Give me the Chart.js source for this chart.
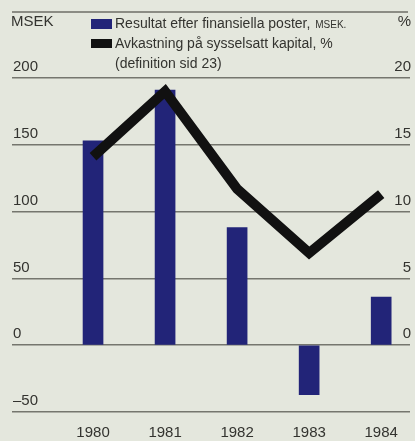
<!DOCTYPE html>
<html>
<head>
<meta charset="utf-8">
<script src="https://cdn.jsdelivr.net/npm/chart.js@4"></script>
<style>
html,body{margin:0;padding:0;background:#e4e7dd;}
#wrap{width:415px;height:441px;position:relative;}
</style>
</head>
<body>
<div id="wrap"><canvas id="c" width="415" height="441"></canvas></div>
<script>
const years = [1980, 1981, 1982, 1983, 1984];
const yearLabels = ['1980', '1981', '1982', '1983', '1984'];
const resultMSEK = [153, 191, 88, -37, 36];
const returnPct = [14.1, 19.0, 11.7, 6.9, 11.3];
const leftTicks = [-50, 0, 50, 100, 150, 200];
const rightTicks = [0, 5, 10, 15, 20];
const seriesLabels = ['Resultat efter finansiella poster, ', 'Avkastning på sysselsatt kapital, %'];
const leftUnit = 'MSEK';
const rightUnit = '%';
const noteText = '(definition sid 23)';

const FONT = '"Liberation Sans", Arial, sans-serif';
const TEXT = '#33332f';
const BLUE = '#222478';

const decor = {
  id: 'decor',
  beforeDraw(chart) {
    const ctx = chart.ctx;
    ctx.save();
    ctx.fillStyle = '#e4e7dd';
    ctx.fillRect(0, 0, chart.width, chart.height);
    ctx.strokeStyle = '#6e6e66';
    ctx.lineWidth = 1.5;
    ctx.beginPath();
    ctx.moveTo(12, 12); ctx.lineTo(408, 12);
    ctx.stroke();
    ctx.restore();
  },
  afterDraw(chart) {
    const ctx = chart.ctx;
    ctx.save();
    ctx.fillStyle = TEXT;
    ctx.textBaseline = 'middle';
    ctx.font = '15px ' + FONT;
    ctx.textAlign = 'left';
    ctx.fillText(leftUnit, 11, 22);
    ctx.textAlign = 'right';
    ctx.fillText(rightUnit, 411, 22);
    // legend
    const ds = chart.data.datasets;
    ctx.textAlign = 'left';
    ctx.fillStyle = ds[0].backgroundColor;
    ctx.fillRect(91, 19, 21, 10);
    ctx.fillStyle = TEXT;
    ctx.font = '14px ' + FONT;
    ctx.fillText(seriesLabels[0], 115, 24);
    const w = ctx.measureText(seriesLabels[0]).width;
    ctx.font = '10px ' + FONT;
    ctx.fillText('MSEK.', 115 + w + 1, 25);
    ctx.fillStyle = ds[1].borderColor;
    ctx.fillRect(91, 39, 21, 9);
    ctx.fillStyle = TEXT;
    ctx.font = '14px ' + FONT;
    ctx.fillText(seriesLabels[1], 115, 44);
    ctx.fillText(noteText, 115, 64);
    ctx.restore();
  }
};

new Chart(document.getElementById('c'), {
  data: {
    datasets: [
      {
        type: 'bar',
        label: seriesLabels[0],
        data: years.map((y, i) => ({x: y, y: resultMSEK[i]})),
        backgroundColor: BLUE,
        barThickness: 20,
        yAxisID: 'y',
        order: 1
      },
      {
        type: 'line',
        label: seriesLabels[1],
        data: years.map((y, i) => ({x: y, y: returnPct[i]})),
        borderColor: '#111111',
        borderWidth: 10,
        pointRadius: 0,
        borderJoinStyle: 'miter',
        borderCapStyle: 'butt',
        tension: 0,
        yAxisID: 'y1',
        order: 0
      }
    ]
  },
  options: {
    responsive: false,
    animation: false,
    devicePixelRatio: 1,
    layout: {padding: {left: 12, right: 5, top: 78, bottom: 0}},
    plugins: {legend: {display: false}, tooltip: {enabled: false}},
    scales: {
      x: {
        type: 'linear',
        offset: false,
        min: 1978.875,
        max: 1984.4,
        afterBuildTicks(scale) { scale.ticks = years.map(v => ({value: v})); },
        afterFit(scale) { scale.height = 29; },
        grid: {display: false, drawTicks: false, offset: false},
        border: {display: false},
        ticks: {
          color: TEXT,
          font: {family: FONT, size: 15},
          padding: 12,
          maxRotation: 0,
          autoSkip: false,
          callback: (v) => { const i = years.indexOf(v); return i >= 0 ? yearLabels[i] : ''; }
        }
      },
      y: {
        position: 'left',
        min: -50,
        max: 200,
        afterBuildTicks(scale) { scale.ticks = leftTicks.map(v => ({value: v})); },
        afterFit(scale) { scale.width = 0; },
        grid: {color: '#75766e', lineWidth: 1.5, drawTicks: false},
        border: {display: false},
        ticks: {
          mirror: true,
          padding: 1,
          labelOffset: -11,
          color: TEXT,
          font: {family: FONT, size: 15},
          callback: (v) => v < 0 ? '\u2013' + Math.abs(v) : String(v)
        }
      },
      y1: {
        position: 'right',
        min: -5,
        max: 20,
        afterBuildTicks(scale) { scale.ticks = rightTicks.map(v => ({value: v})); },
        afterFit(scale) { scale.width = 0; },
        grid: {display: false, drawTicks: false},
        border: {display: false},
        ticks: {
          mirror: true,
          padding: 1,
          labelOffset: -11,
          color: TEXT,
          font: {family: FONT, size: 15}
        }
      }
    }
  },
  plugins: [decor]
});
</script>
</body>
</html>
